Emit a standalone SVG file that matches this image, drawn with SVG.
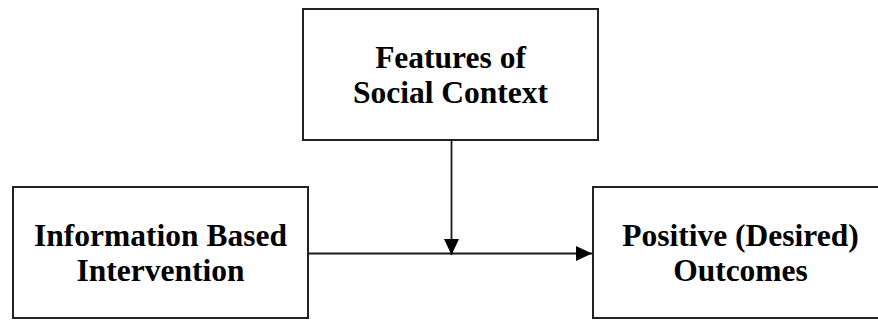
<svg xmlns="http://www.w3.org/2000/svg" width="878" height="320" viewBox="0 0 878 320">
<style>
.box{fill:#fff;stroke:#222;stroke-width:2}
.lbl{font-family:"Liberation Serif","Times New Roman",serif;font-weight:bold;font-size:31.5px;fill:#000;text-anchor:middle}
.conn{stroke:#1a1a1a;stroke-width:1.8;fill:none}
</style>
<defs>
<marker id="ah" markerUnits="userSpaceOnUse" markerWidth="17" markerHeight="15" refX="16" refY="7.5" orient="auto">
<path d="M0,0 L16,7.5 L0,15 Z" fill="#000"/>
</marker>
</defs>
<rect width="878" height="320" fill="#fff"/>
<g id="features">
<rect class="box" x="303" y="9" width="295" height="131"/>
<text class="lbl" x="450.5" y="68">Features of</text>
<text class="lbl" x="450.5" y="103">Social Context</text>
</g>
<g id="intervention">
<rect class="box" x="13" y="187" width="295" height="131"/>
<text class="lbl" x="160.5" y="245.5">Information Based</text>
<text class="lbl" x="160.5" y="280.5">Intervention</text>
</g>
<g id="outcomes">
<rect class="box" x="593" y="187" width="295" height="131"/>
<text class="lbl" x="740.5" y="245.5">Positive (Desired)</text>
<text class="lbl" x="740.5" y="280.5">Outcomes</text>
</g>
<g id="connectors">
<line class="conn" x1="308" y1="253.5" x2="592" y2="253.5" marker-end="url(#ah)"/>
<line class="conn" x1="451.5" y1="140" x2="451.5" y2="255" marker-end="url(#ah)"/>
</g>
</svg>
